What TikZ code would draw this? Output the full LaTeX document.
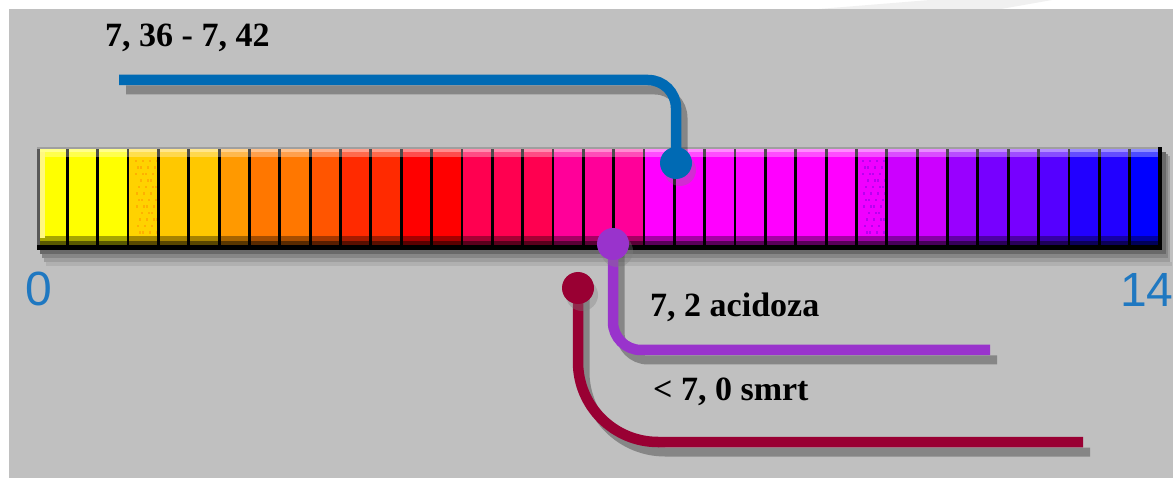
\documentclass[tikz,border=0pt]{standalone}
\usepackage{fontspec}
\setmainfont{Liberation Serif}
\newfontfamily\numfont{Liberation Sans}
\usetikzlibrary{shadows}
\definecolor{bgray}{HTML}{C0C0C0}
\definecolor{lblue}{HTML}{006AB4}
\definecolor{lpurple}{HTML}{9933CC}
\definecolor{lcrimson}{HTML}{990033}
\definecolor{scalecol}{HTML}{1F78C1}
\definecolor{dorange}{HTML}{FFB000}
\definecolor{dpurp}{HTML}{B800F0}
\begin{document}
\begin{tikzpicture}[x=1pt,y=-1pt,
  lbl/.style={font=\fontsize{34}{34}\selectfont\bfseries, inner sep=0pt, anchor=base west},
  num/.style={font=\numfont\fontsize{48}{48}\selectfont, text=scalecol, inner sep=0pt, anchor=base west},
  conn/.style={line width=10.5pt},
  shade/.style={line width=9pt, black, opacity=.3},
  dot/.style={circle, minimum size=32pt, inner sep=0pt, draw=none,
     drop shadow={shadow xshift=4pt, shadow yshift=-7pt, opacity=.35}}]
\useasboundingbox (0,0) rectangle (1173,478);
\fill[white] (0,0) rectangle (1173,478);
\fill[bgray] (9,9) rectangle (1173,478);
\fill[gray!12] (819,9) -- (930,0) -- (1052,0) -- (1001,9) -- cycle;

% bar shadow
\fill[black,opacity=.45] (40,250) rectangle (1166,254);
\fill[black,opacity=.3] (42,254) rectangle (1168,258);
\fill[black,opacity=.18] (44,258) rectangle (1170,262);
\fill[black,opacity=.08] (46,262) rectangle (1172,266);
\fill[black,opacity=.45] (1162,152) rectangle (1166,250);
\fill[black,opacity=.3] (1166,154) rectangle (1168,254);
\fill[black,opacity=.18] (1168,156) rectangle (1170,258);

% bar cells
\foreach \c [count=\i from 0] in {FFFF00,FFFF00,FFFF00,FFD200,FFC800,FFC800,FF9900,FF7700,FF7700,FF5500,FF2A00,FF2A00,FF0000,FF0000,FF0050,FF0050,FF0050,FF0099,FF0099,FF0099,FF00FF,FF00FF,FF00FF,FF00FF,FF00FF,FF00FF,FF00FF,F000FF,CC00FF,CC00FF,9900FF,7700FF,7700FF,5500FF,2200FF,2200FF,0000FF}{
  \definecolor{cc}{HTML}{\c}
  \pgfmathsetmacro{\xa}{37+\i*30.351}
  \pgfmathsetmacro{\xb}{\xa+30.351}
  \fill[cc] (\xa,149) rectangle (\xb,246);
  \fill[cc!45!white] (\xa,149) rectangle (\xb,152);
  \fill[cc!70!white] (\xa,152) rectangle (\xb,157);
  \fill[cc!65!black] (\xa,236) rectangle (\xb,241);
  \fill[cc!35!black] (\xa,241) rectangle (\xb,246);
}
% dithered cells
\foreach \r in {0,...,11}{
  \foreach \k in {0,...,3}{
    \pgfmathsetmacro{\dx}{3+mod(\r*5+\k*7,24)}
    \fill[dorange] ({131.5+\dx},{160+\r*6.5}) rectangle ++(2.5,2.5);
    \fill[dpurp] ({858.5+\dx},{160+\r*6.5}) rectangle ++(2.5,2.5);
  }
}
% separators
\foreach \i in {1,...,36}{
  \fill[black!70] ({37+\i*30.351-1.4},149) rectangle ++(2.8,8);
  \fill[black] ({37+\i*30.351-1.4},157) rectangle ++(2.8,89);
}
\fill[gray!75] (37,147) rectangle (1162,149);
\fill[black!65] (37,149) rectangle (40,250);
\fill[yellow!50!white] (40,152) rectangle (45,238);
\fill[black] (37,245) rectangle (1162,250);
\fill[black] (1158,147) rectangle (1162,250);

% connector geometry
\coordinate (bstart) at (119,80);
\coordinate (bpin) at (676,163);
\coordinate (pend) at (990,350);
\coordinate (ppin) at (613,244);
\coordinate (cend) at (1083,442);
\coordinate (cpin) at (578,288);

% connector shadows
\begin{scope}[transform canvas={xshift=7pt,yshift=-10pt}]
\draw[shade, rounded corners=28pt] (bstart) -| (bpin);
\draw[shade, rounded corners=28pt] (pend) -| (ppin);
\draw[shade, rounded corners=80pt] (cend) -| (cpin);
\end{scope}

% connectors
\draw[conn, lcrimson, rounded corners=80pt] (cend) -| (cpin);
\node[dot, fill=lcrimson] (cdot) at (cpin) {};
\draw[conn, lpurple, rounded corners=28pt] (pend) -| (ppin);
\node[dot, fill=lpurple] (pdot) at (ppin) {};
\draw[conn, lblue, rounded corners=28pt] (bstart) -| (bpin);
\node[dot, fill=lblue] (bdot) at (bpin) {};

% labels
\node[lbl] (t1) at (105,47) {7, 36 - 7, 42};
\node[lbl] (t2) at (650,317) {7, 2 acidoza};
\node[lbl] (t3) at (653,400) {< 7, 0 smrt};
\node[num] (n0) at (25,306) {0};
\node[num] (n14) at (1120,307) {14};
\end{tikzpicture}
\end{document}
